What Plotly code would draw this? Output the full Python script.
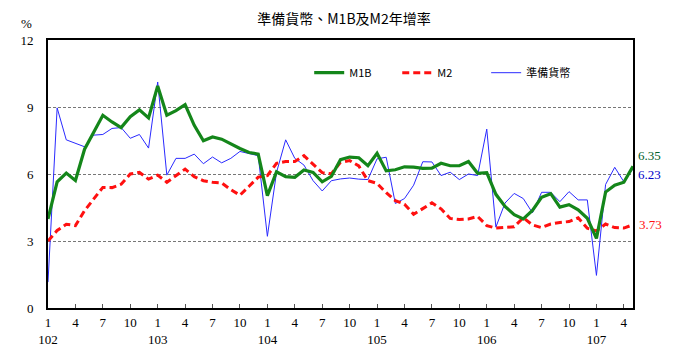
import plotly.graph_objects as go

# Months from 102/1 to 107/5 (ROC years), index 0..64
months_idx = list(range(65))

m1b = [3.99, 5.65, 6.04, 5.71, 7.11, 7.85, 8.63, 8.33, 8.08, 8.57, 8.87, 8.51,
       9.94, 8.63, 8.84, 9.11, 8.18, 7.49, 7.66, 7.56, 7.34, 7.14, 6.96, 6.89,
       5.03, 6.10, 5.88, 5.85, 6.18, 6.07, 5.65, 5.89, 6.64, 6.76, 6.73, 6.37,
       6.93, 6.14, 6.19, 6.32, 6.31, 6.25, 6.26, 6.48, 6.37, 6.37, 6.56, 6.03,
       6.06, 5.09, 4.55, 4.18, 3.99, 4.37, 4.96, 5.12, 4.52, 4.63, 4.40, 4.02,
       3.12, 5.19, 5.50, 5.63, 6.35]

m2 = [3.00, 3.47, 3.75, 3.69, 4.36, 4.88, 5.40, 5.39, 5.54, 6.00, 6.07, 5.77,
      5.95, 5.63, 5.92, 6.22, 5.88, 5.70, 5.63, 5.60, 5.30, 5.05, 5.45, 5.86,
      5.93, 6.48, 6.56, 6.56, 6.82, 6.45, 6.06, 6.01, 6.52, 6.60, 6.36, 5.70,
      5.58, 5.16, 4.81, 4.65, 4.20, 4.45, 4.71, 4.44, 4.01, 3.96, 3.99, 4.10,
      3.69, 3.58, 3.62, 3.64, 4.04, 3.72, 3.60, 3.76, 3.83, 3.87, 4.04, 3.57,
      3.45, 3.76, 3.60, 3.58, 3.73]

reserve = [1.16, 8.96, 7.53, 7.38, 7.22, 7.74, 7.77, 8.04, 8.08, 7.60, 7.77, 7.16,
           10.12, 5.95, 6.70, 6.70, 6.89, 6.46, 6.76, 6.50, 6.70, 7.01, 6.93, 6.82,
           3.21, 6.07, 7.53, 6.70, 6.40, 5.70, 5.24, 5.70, 5.78, 5.82, 5.77, 5.75,
           6.68, 6.75, 4.68, 4.90, 5.50, 6.55, 6.54, 5.93, 6.08, 5.75, 6.00, 5.93,
           8.01, 3.62, 4.70, 5.13, 4.90, 4.26, 5.18, 5.18, 4.76, 5.21, 4.84, 4.84,
           1.46, 5.53, 6.30, 5.65, 6.23]

tick_vals = list(range(0, 64, 3))
years = ["102", "103", "104", "105", "106", "107"]
month_labels = ["1", "4", "7", "10"]
tick_text = []
for i, v in enumerate(tick_vals):
    mi = i % 4
    if mi == 0:
        tick_text.append(month_labels[mi] + "<br>" + years[i // 4])
    else:
        tick_text.append(month_labels[mi])

y_ticks = [0, 3, 6, 9, 12]

names = ["M1B", "M2", "準備貨幣"]

serif = "Liberation Serif, Times New Roman, serif"
cjk = "Noto Sans CJK TC, Noto Sans CJK SC, sans-serif"

fig = go.Figure()
fig.add_trace(go.Scatter(x=months_idx, y=reserve, mode="lines", name=names[2],
                         line=dict(color="#2a2aff", width=1), legend="legend3"))
fig.add_trace(go.Scatter(x=months_idx, y=m2, mode="lines", name=names[1],
                         line=dict(color="#ff1010", width=3, dash="7px,4px"), legend="legend2"))
fig.add_trace(go.Scatter(x=months_idx, y=m1b, mode="lines", name=names[0],
                         line=dict(color="#14861a", width=3.2), legend="legend"))

leg_common = dict(orientation="h", yanchor="middle", xanchor="left",
                  bgcolor="rgba(0,0,0,0)", font=dict(family=cjk, size=11, color="black"),
                  itemwidth=30)
fig.update_layout(
    showlegend=True,
    legend=dict(x=0.4465, y=0.878, **leg_common),
    legend2=dict(x=0.597, y=0.878, **leg_common),
    legend3=dict(x=0.749, y=0.878, **leg_common),
)

# end labels
fig.add_annotation(x=months_idx[-1], y=m1b[-1], text=f"{m1b[-1]:.2f}", showarrow=False,
                   xanchor="left", xshift=3, yshift=11,
                   font=dict(family=serif, size=13, color="#00602a"))
fig.add_annotation(x=months_idx[-1], y=reserve[-1], text=f"{reserve[-1]:.2f}", showarrow=False,
                   xanchor="left", xshift=3, yshift=-6,
                   font=dict(family=serif, size=13, color="#0000c8"))
fig.add_annotation(x=months_idx[-1], y=m2[-1], text=f"{m2[-1]:.2f}", showarrow=False,
                   xanchor="left", xshift=4, yshift=0,
                   font=dict(family=serif, size=13, color="#ff1010"))
fig.add_annotation(xref="paper", yref="paper", x=-0.037, y=1.0, yshift=17,
                   text="%", showarrow=False, xanchor="center", yanchor="middle",
                   font=dict(family=serif, size=13, color="black"))

# page body has an 8px margin: figure is drawn 8px right/down on screen
fig.update_layout(
    width=668, height=351,
    margin=dict(l=36, r=43, t=32, b=49),
    paper_bgcolor="white", plot_bgcolor="white",
    title=dict(text="準備貨幣、M1B及M2年增率", x=0.503, xanchor="center", y=0.982, yanchor="top",
               font=dict(family=cjk, size=14, color="black")),
    xaxis=dict(range=[0, 64], tickmode="array", tickvals=tick_vals, ticktext=tick_text,
               ticks="inside", ticklen=4, tickwidth=1, tickcolor="#555",
               showgrid=False, zeroline=False, showline=True, mirror=True,
               linecolor="black", linewidth=2, ticklabelstandoff=1,
               tickfont=dict(family=serif, size=13, color="black")),
    yaxis=dict(range=[0, 12], tickmode="array", tickvals=y_ticks,
               showgrid=True, gridcolor="#777", griddash="3px,2px", gridwidth=1,
               zeroline=False, showline=True, mirror=True,
               linecolor="black", linewidth=2, ticks="outside", ticklen=10,
               tickcolor="rgba(0,0,0,0)",
               tickfont=dict(family=serif, size=13, color="black")),
)

fig.write_html("out.html")
